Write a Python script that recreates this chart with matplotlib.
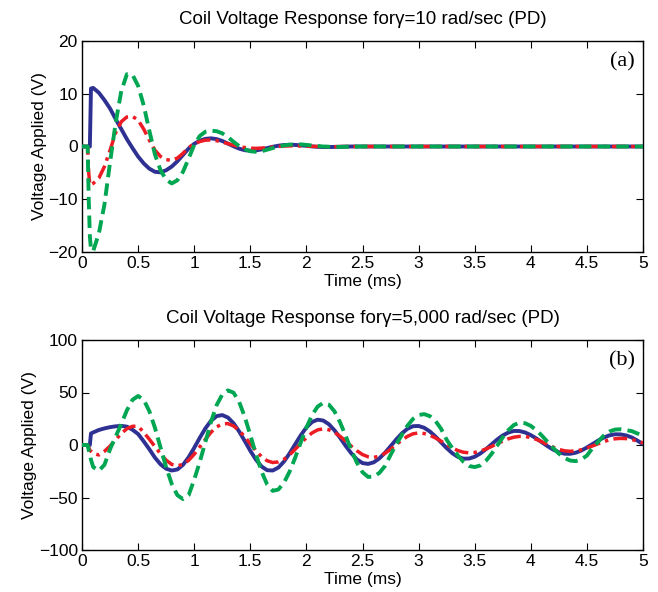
import matplotlib
matplotlib.use("Agg")
import matplotlib.pyplot as plt

plt.rcParams['font.family'] = ['Liberation Sans', 'DejaVu Sans']

# ---------------- Panel (a): gamma = 10 rad/sec ----------------
time_a = [0, 0.05, 0.06, 0.07, 0.08,
          0.10, 0.15, 0.20, 0.25, 0.30, 0.35, 0.40, 0.45, 0.50, 0.55,
          0.60, 0.65, 0.70, 0.75, 0.80, 0.85, 0.90, 0.95, 1.00, 1.05,
          1.10, 1.15, 1.20, 1.25, 1.30, 1.35, 1.40, 1.45, 1.50, 1.55,
          1.60, 1.65, 1.70, 1.75, 1.80, 1.85, 1.90, 1.95, 2.00, 2.05,
          2.10, 2.15, 2.20, 2.25, 2.30, 2.35, 2.40,
          2.5, 3.0, 3.5, 4.0, 4.5, 5.0]

blue_a = [0, 0, 0, 0, 11.0,
          11.1, 10.2, 8.8, 7.2, 5.2, 3.3, 1.4, -0.3, -1.9, -3.2,
          -4.2, -4.8, -4.9, -4.5, -3.8, -2.8, -1.6, -0.4, 0.5, 1.1,
          1.45, 1.55, 1.4, 1.05, 0.55, 0.05, -0.4, -0.7, -0.8, -0.75,
          -0.55, -0.3, -0.05, 0.15, 0.28, 0.32, 0.3, 0.22, 0.12, 0.02,
          -0.06, -0.1, -0.1, -0.08, -0.05, -0.02, 0,
          0, 0, 0, 0, 0, 0]

green_a = [0, 0, -10, -17, -19.5,
           -19.8, -16.5, -11, -3, 4.5, 10.5, 13.7, 13.6, 11.5, 7.8,
           3, -1.5, -4.5, -6.3, -7.0, -6.4, -4.8, -2.3, 0.3, 2.0,
           2.8, 3.0, 2.9, 2.5, 1.8, 0.9, 0.1, -0.5, -0.9, -1.0,
           -0.9, -0.6, -0.3, 0, 0.2, 0.35, 0.4, 0.4, 0.3, 0.2,
           0.1, 0, -0.05, -0.08, -0.08, -0.05, -0.02,
           0, 0, 0, 0, 0, 0]

red_a = [0, 0, -5, -7.3, -7.2,
         -7.0, -6.0, -3.8, -0.7, 2.6, 4.7, 5.6, 5.7, 5.0, 3.3,
         1.2, -0.7, -1.9, -2.5, -2.6, -2.2, -1.3, -0.2, 0.5, 0.95,
         1.2, 1.25, 1.1, 0.85, 0.55, 0.25, 0, -0.2, -0.32, -0.35,
         -0.3, -0.2, -0.1, 0, 0.08, 0.12, 0.12, 0.1, 0.06, 0.02,
         0, -0.02, -0.03, -0.03, -0.02, -0.01, 0,
         0, 0, 0, 0, 0, 0]

# ---------------- Panel (b): gamma = 5,000 rad/sec ----------------
time_b = [0, 0.05, 0.07, 0.08,
          0.10, 0.15, 0.20, 0.25, 0.30, 0.35, 0.40, 0.45, 0.50, 0.55,
          0.60, 0.65, 0.70, 0.75, 0.80, 0.85, 0.90, 0.95, 1.00, 1.05,
          1.10, 1.15, 1.20, 1.25, 1.30, 1.35, 1.40, 1.45, 1.50, 1.55,
          1.60, 1.65, 1.70, 1.75, 1.80, 1.85, 1.90, 1.95, 2.00, 2.05,
          2.10, 2.15, 2.20, 2.25, 2.30, 2.35, 2.40, 2.45, 2.50, 2.55,
          2.60, 2.65, 2.70, 2.75, 2.80, 2.85, 2.90, 2.95, 3.00, 3.05,
          3.10, 3.15, 3.20, 3.25, 3.30, 3.35, 3.40, 3.45, 3.50, 3.55,
          3.60, 3.65, 3.70, 3.75, 3.80, 3.85, 3.90, 3.95, 4.00, 4.05,
          4.10, 4.15, 4.20, 4.25, 4.30, 4.35, 4.40, 4.45, 4.50, 4.55,
          4.60, 4.65, 4.70, 4.75, 4.80, 4.85, 4.90, 4.95, 5.00]

blue_b = [0, 0, 0, 11.0,
          12.0, 14.3, 15.8, 17.0, 17.8, 18.2, 17.5, 14.5, 10.5, 3.5,
          -4.0, -12.0, -18.4, -22.6, -24.3, -23.3, -18.9, -11.7, -2.7, 6.9,
          15.9, 23.1, 27.5, 28.5, 26.2, 20.8, 13.0, 3.9, -5.5, -13.9,
          -20.4, -24.0, -24.3, -21.5, -15.8, -8.0, 0.7, 9.3, 16.7, 21.9,
          24.1, 23.3, 19.8, 14.0, 6.9, -0.8, -7.9, -13.7, -17.2, -18.0,
          -16.5, -12.8, -7.45, -1.2, 5.2, 11.0, 15.4, 17.9, 18.1, 16.4,
          12.9, 8.1, 2.55, -2.96, -7.8, -11.3, -13.0, -12.9, -11.2, -8.1,
          -4.0, 0.6, 5.2, 9.1, 11.9, 13.4, 13.3, 11.9, 9.4, 6.2,
          2.5, -1.2, -4.4, -6.9, -8.3, -8.4, -7.35, -5.3, -2.4, 0.9,
          4.2, 7.1, 9.15, 10.2, 10.1, 9.1, 7.2, 4.2, 0.8]

green_b = [0, 0, -10, -14,
           -21, -24.5, -18.9, -4, 8, 20, 33, 43, 46.7, 43.0,
           32.3, 16.4, -2.4, -21.2, -37.1, -47.8, -51.5, -47.9, -33, -16,
           3, 22, 38, 48, 52, 49.9, 41.2, 27.0, 9.5, -8.8,
           -25.2, -37.5, -43.7, -42.4, -35.9, -25.4, -12.1, 2.5, 16.5, 28.4,
           36.6, 40.1, 38.5, 32.1, 21.6, 8.7, -4.7, -16.8, -25.9, -30.4,
           -30.2, -26.6, -20.1, -9.5, 0.5, 9.5, 18.3, 24.8, 28.6, 29.4,
           27.5, 23.0, 15.5, 5, -3, -10, -16, -20, -21, -19.5,
           -15.1, -8.5, -0.7, 7.3, 14.2, 19.1, 21.3, 20.7, 18.2, 14.1,
           8.8, 2.95, -2.9, -8.2, -12.3, -14.8, -15.35, -13.7, -10.1, -3,
           3, 9, 12.8, 14.7, 15.0, 14.2, 13.2, 11, 8.5]

red_b = [0, 0, -5, -6,
         -8, -9.5, -6, -1, 5, 11, 15.5, 17.8, 17.9, 12,
         5.5, -1.5, -8.5, -14.5, -18.5, -19.8, -18.5, -14.6, -8.8, -1.8,
         5.5, 12.1, 17.2, 20.1, 20.4, 18.2, 13.9, 7.9, 1.2, -5.4,
         -11.1, -15.0, -16.7, -16.1, -13.6, -9.4, -4.1, 1.6, 7.0, 11.5,
         14.4, 15.4, 14.5, 12.1, 8.3, 3.7, -1.1, -5.5, -9.1, -11.2,
         -11.8, -10.6, -7.9, -4.1, 0.3, 4.6, 8.2, 10.65, 11.5, 10.9,
         9.3, 6.75, 3.65, 0.35, -2.75, -5.3, -6.9, -7.5, -7.1, -5.8,
         -3.8, -1.4, 1.2, 3.7, 5.9, 7.45, 8.2, 8.1, 7.1, 5.3,
         2.96, 0.37, -2.1, -4.2, -5.5, -6.0, -5.6, -4.6, -2.9, -0.9,
         1.2, 3.2, 4.9, 5.9, 6.3, 6.1, 5.2, 3.8, 2.0]

titles = ["Coil Voltage Response for\u03b3=10 rad/sec (PD)",
          "Coil Voltage Response for\u03b3=5,000 rad/sec (PD)"]
panel_tags = ["(a)", "(b)"]
xticks = [0, 0.5, 1, 1.5, 2, 2.5, 3, 3.5, 4, 4.5, 5]
xticklabels = ["0", "0.5", "1", "1.5", "2", "2.5", "3", "3.5", "4", "4.5", "5"]
yticks_a = [-20, -10, 0, 10, 20]
yticks_b = [-100, -50, 0, 50, 100]

BLUE = "#2e3192"
GREEN = "#00a651"
RED = "#ed1c24"

W, H = 658, 592
fig = plt.figure(figsize=(W / 100, H / 100), dpi=100)
ax_a = fig.add_axes([82 / W, 1 - 252 / H, (643 - 82) / W, (252 - 41) / H])
ax_b = fig.add_axes([82 / W, 1 - 550 / H, (643 - 82) / W, (550 - 340) / H])

panels = [
    (ax_a, time_a, blue_a, green_a, red_a, yticks_a),
    (ax_b, time_b, blue_b, green_b, red_b, yticks_b),
]

for i, (ax, t, b, g, r, yt) in enumerate(panels):
    ax.plot(t, b, color=BLUE, lw=2.8, solid_capstyle='butt', zorder=3)
    ax.plot(t, r, color=RED, lw=2.5, linestyle=(0, (4, 1.5, 1, 1.5)), zorder=4)
    ax.plot(t, g, color=GREEN, lw=2.8, linestyle=(0, (3.2, 1.6)), zorder=5)
    ax.set_xlim(0, 5)
    ax.set_ylim(yt[0], yt[-1])
    ax.set_xticks(xticks)
    ax.set_xticklabels(xticklabels)
    ax.set_yticks(yt)
    ax.tick_params(direction='in', top=True, right=True, length=5, width=0.8,
                   labelsize=12.5, pad=3)
    for s in ax.spines.values():
        s.set_linewidth(1.0)
    ax.set_title(titles[i], fontsize=13.5, pad=12)
    ax.set_xlabel("Time (ms)", fontsize=12.5, labelpad=2)
    ax.set_ylabel("Voltage Applied (V)", fontsize=12.5, labelpad=1)
    ax.text(0.986, 0.9, panel_tags[i], transform=ax.transAxes, ha='right', va='center',
            fontsize=16, family=['Liberation Serif', 'DejaVu Serif'])

fig.savefig("out.png", dpi=100)
